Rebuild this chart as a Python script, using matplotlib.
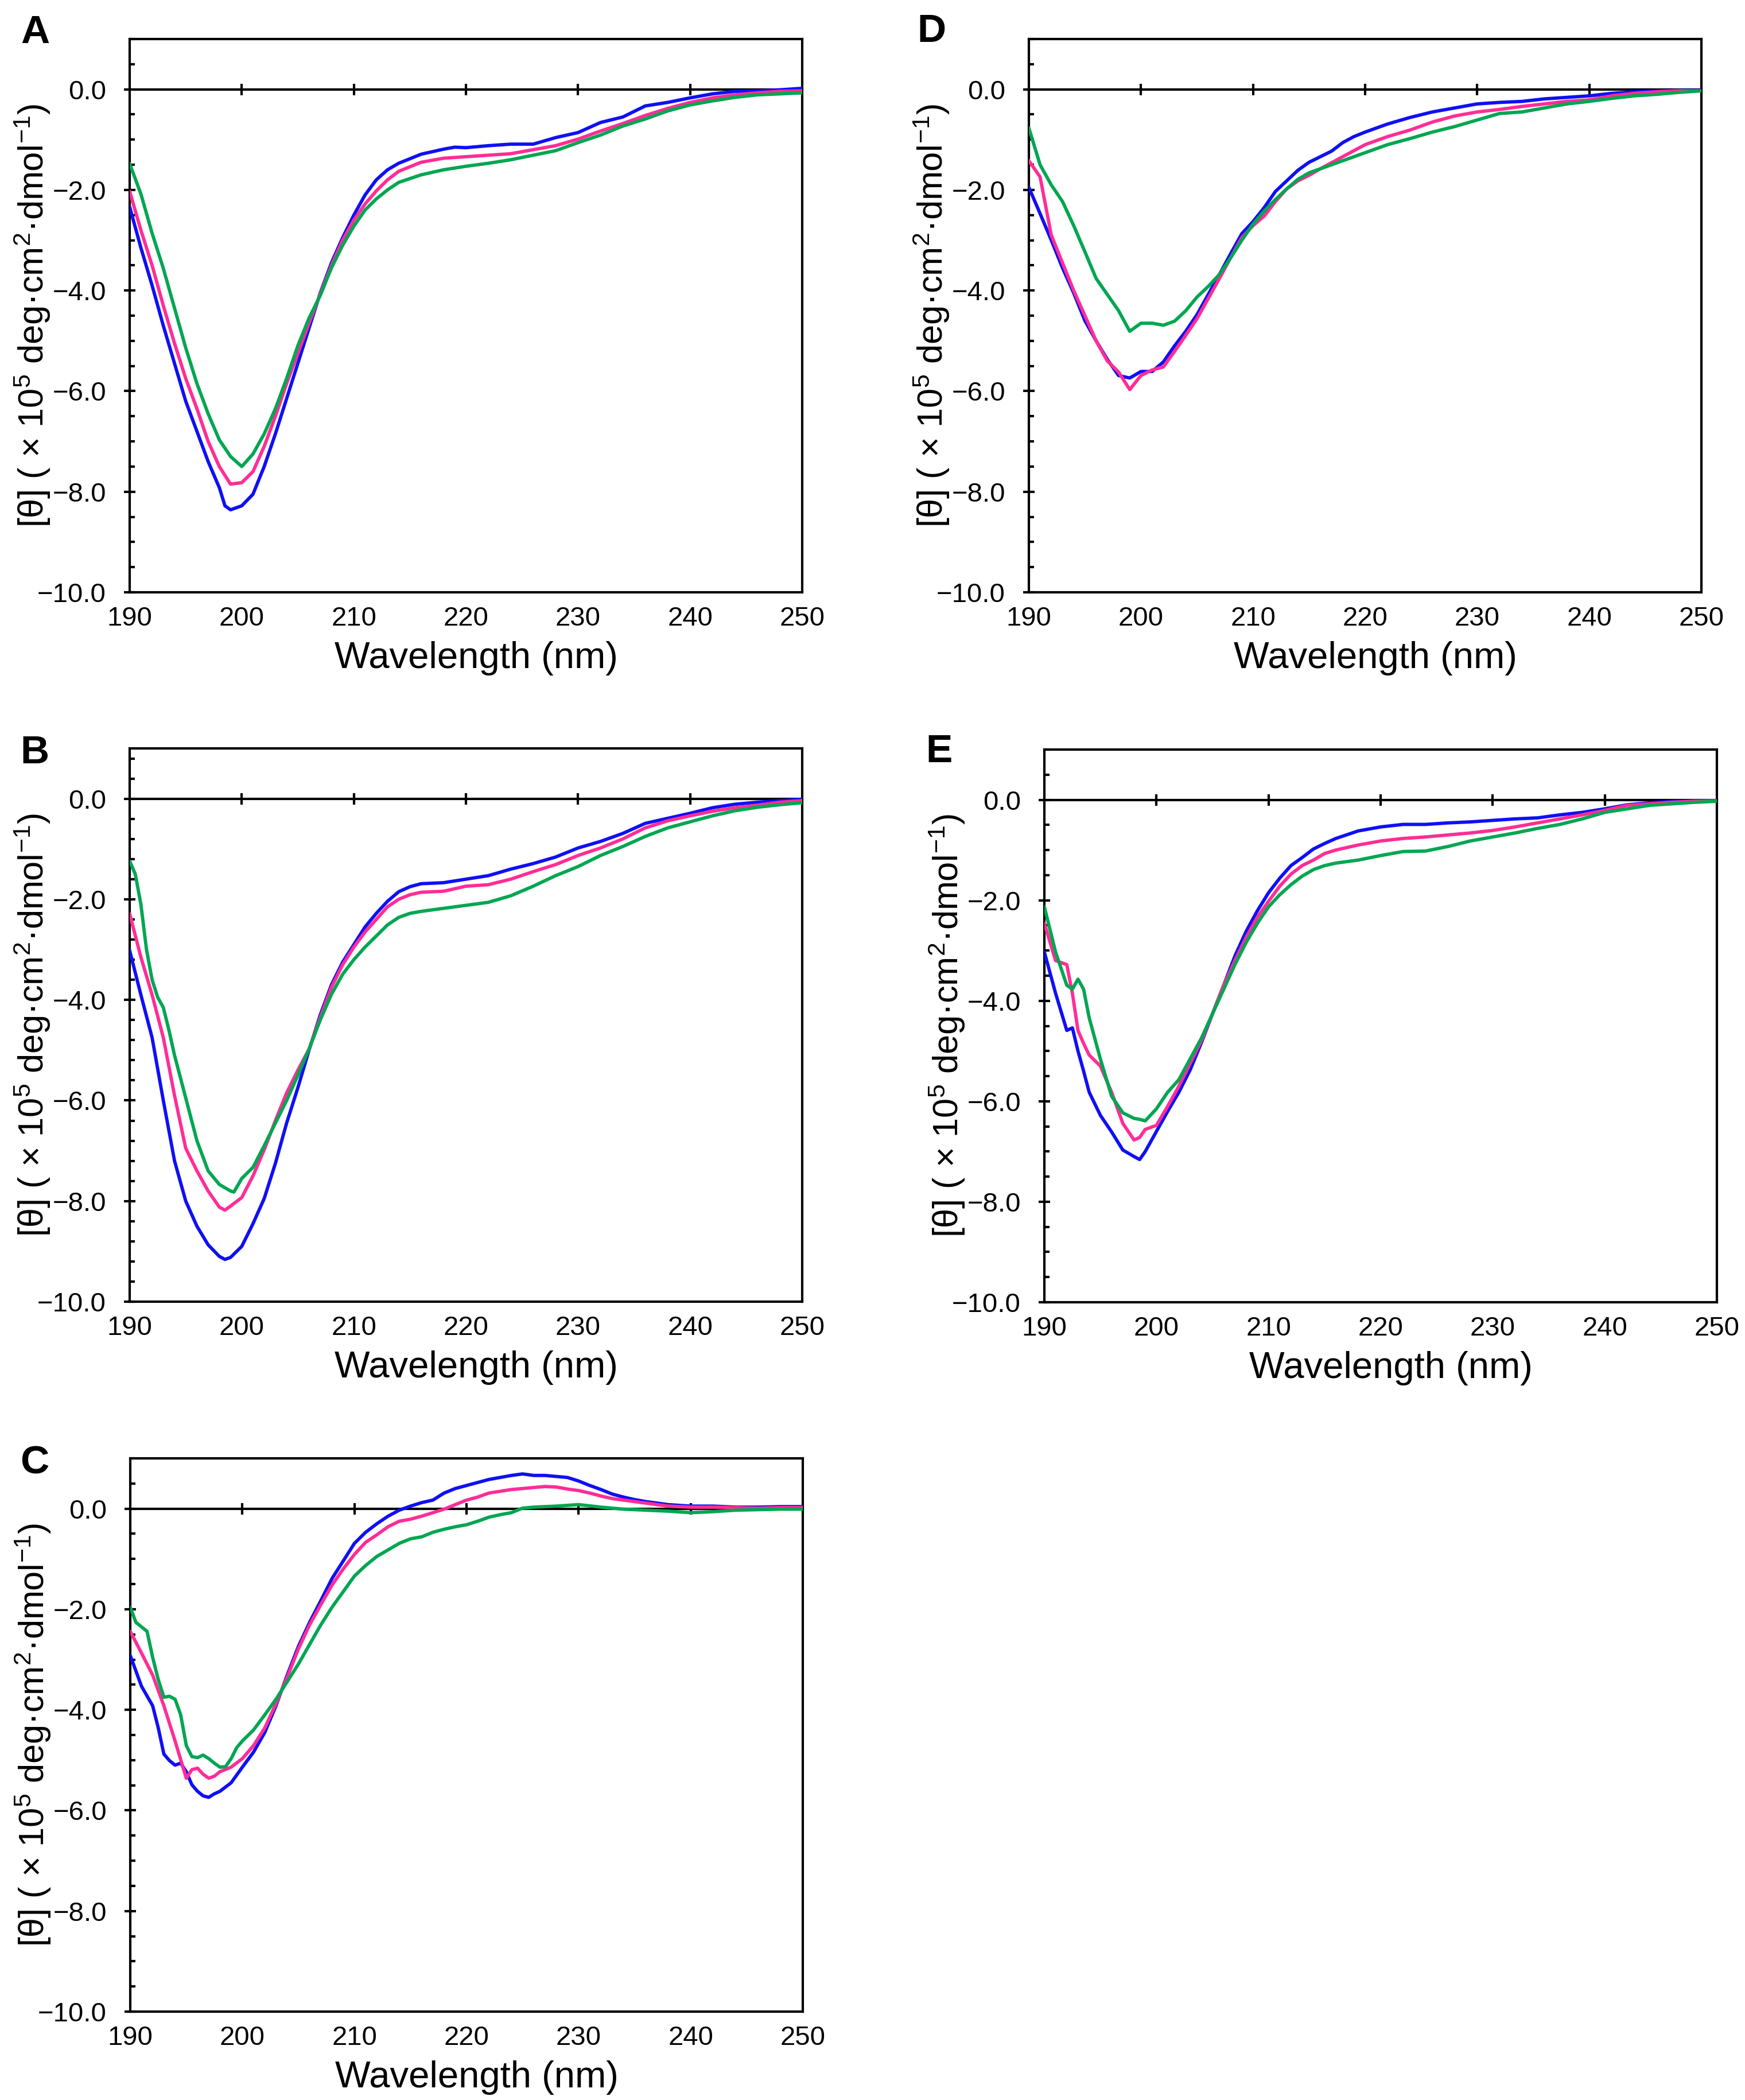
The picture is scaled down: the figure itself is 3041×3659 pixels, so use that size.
import matplotlib
matplotlib.use("Agg")
import matplotlib.pyplot as plt
from matplotlib.ticker import MultipleLocator, FuncFormatter, NullLocator

plt.rcParams['font.family'] = ['Liberation Sans', 'DejaVu Sans']
plt.rcParams['mathtext.fontset'] = 'custom'
plt.rcParams['mathtext.rm'] = 'Liberation Sans'
plt.rcParams['mathtext.it'] = 'Liberation Sans:italic'
plt.rcParams['mathtext.bf'] = 'Liberation Sans:bold'

# ---------------- data ----------------
x_ticks = [190, 200, 210, 220, 230, 240, 250]
y_ticks = [0.0, -2.0, -4.0, -6.0, -8.0, -10.0]
colors = {'blue': '#0F0FF5', 'pink': '#FF2D96', 'green': '#00A651'}

# Panel A
A_blue_wl = [190, 191, 192, 193, 194, 195, 196, 197, 198, 198.5, 199, 200, 201, 202, 203, 204, 205, 206, 207, 208,
             209, 210, 211, 212, 213, 214, 216, 218, 219, 220, 222, 224, 226, 228, 230, 232, 234, 236, 238, 240,
             242, 244, 246, 248, 250]
A_blue = [-2.34, -3.15, -3.9, -4.7, -5.45, -6.2, -6.8, -7.4, -7.92, -8.28, -8.36, -8.28, -8.05, -7.5, -6.85, -6.15,
          -5.45, -4.75, -4.05, -3.45, -2.95, -2.5, -2.1, -1.8, -1.6, -1.47, -1.29, -1.19, -1.15, -1.16, -1.12, -1.09,
          -1.09, -0.96, -0.86, -0.66, -0.55, -0.33, -0.26, -0.17, -0.09, -0.04, -0.03, -0.01, 0.02]
A_wl = [190, 191, 192, 193, 194, 195, 196, 197, 198, 199, 200, 201, 202, 203, 204, 205, 206, 207, 208, 209, 210,
        211, 212, 213, 214, 216, 218, 220, 222, 224, 226, 228, 230, 232, 234, 236, 238, 240, 242, 244, 246, 248, 250]
A_pink = [-2.03, -2.8, -3.5, -4.3, -5.05, -5.75, -6.35, -7.0, -7.5, -7.85, -7.82, -7.6, -7.1, -6.5, -5.85, -5.25,
          -4.65, -4.07, -3.5, -3.0, -2.6, -2.28, -2.02, -1.8, -1.63, -1.45, -1.37, -1.34, -1.31, -1.28, -1.2, -1.12,
          -0.99, -0.83, -0.68, -0.52, -0.38, -0.26, -0.17, -0.11, -0.07, -0.04, -0.03]
A_green = [-1.48, -2.08, -2.86, -3.56, -4.35, -5.14, -5.85, -6.45, -6.97, -7.3, -7.5, -7.25, -6.85, -6.35, -5.75,
           -5.1, -4.55, -4.1, -3.55, -3.1, -2.72, -2.4, -2.18, -2.0, -1.85, -1.7, -1.6, -1.53, -1.47, -1.4, -1.31,
           -1.22, -1.06, -0.91, -0.73, -0.59, -0.43, -0.31, -0.23, -0.16, -0.11, -0.09, -0.07]

# Panel B
B_wl = [190, 191, 192, 193, 194, 195, 196, 197, 198, 198.5, 199, 200, 201, 202, 203, 204, 205, 206, 207, 208, 209,
        210, 211, 212, 213, 214, 215, 216, 218, 220, 222, 224, 226, 228, 230, 232, 234, 236, 238, 240, 242, 244,
        246, 248, 250]
B_blue = [-3.02, -3.9, -4.75, -6.0, -7.2, -8.0, -8.5, -8.87, -9.1, -9.16, -9.12, -8.9, -8.45, -7.95, -7.25, -6.45,
          -5.75, -5.0, -4.3, -3.7, -3.25, -2.9, -2.55, -2.28, -2.04, -1.85, -1.75, -1.69, -1.67, -1.6, -1.53, -1.4,
          -1.29, -1.16, -0.98, -0.85, -0.69, -0.49, -0.39, -0.29, -0.18, -0.11, -0.07, -0.04, -0.01]
B_pink = [-2.29, -3.15, -3.9, -4.75, -5.9, -6.95, -7.4, -7.8, -8.12, -8.18, -8.1, -7.93, -7.5, -6.98, -6.4, -5.85,
          -5.4, -4.98, -4.35, -3.75, -3.3, -2.95, -2.65, -2.4, -2.15, -2.0, -1.91, -1.86, -1.84, -1.74, -1.71, -1.6,
          -1.45, -1.31, -1.13, -0.98, -0.8, -0.58, -0.44, -0.34, -0.25, -0.18, -0.13, -0.07, -0.04]
B_green_wl = [190, 190.5, 191, 191.5, 192, 192.5, 193, 193.5, 194, 195, 196, 197, 198, 199, 199.3, 200, 201, 202,
              203, 204, 205, 206, 207, 208, 209, 210, 211, 212, 213, 214, 215, 216, 218, 220, 222, 224, 226, 228,
              230, 232, 234, 236, 238, 240, 242, 244, 246, 248, 250]
B_green = [-1.24, -1.5, -2.1, -3.0, -3.6, -3.95, -4.15, -4.6, -5.1, -5.95, -6.8, -7.4, -7.67, -7.8, -7.82, -7.55,
           -7.33, -6.9, -6.45, -6.0, -5.5, -4.98, -4.4, -3.89, -3.49, -3.2, -2.95, -2.73, -2.51, -2.36, -2.28, -2.24,
           -2.18, -2.12, -2.06, -1.93, -1.74, -1.53, -1.35, -1.13, -0.95, -0.75, -0.58, -0.46, -0.34, -0.24, -0.17,
           -0.12, -0.08]

# Panel C
C_blue_wl = [190, 191, 192, 192.5, 193, 193.5, 194, 194.5, 195, 195.5, 196, 196.5, 197, 197.5, 198, 199, 200, 201,
             202, 203, 204, 205, 206, 207, 208, 209, 210, 211, 212, 213, 214, 215, 216, 217, 218, 219, 220, 221,
             222, 223, 224, 225, 226, 227, 228, 229, 230, 231, 232, 233, 234, 235, 236, 238, 240, 242, 244, 246,
             248, 250]
C_blue = [-2.92, -3.53, -3.92, -4.36, -4.88, -5.01, -5.1, -5.06, -5.23, -5.49, -5.62, -5.71, -5.74, -5.67, -5.62,
          -5.45, -5.14, -4.84, -4.45, -3.92, -3.31, -2.74, -2.26, -1.83, -1.39, -1.04, -0.69, -0.47, -0.3, -0.15,
          -0.03, 0.05, 0.12, 0.17, 0.31, 0.4, 0.46, 0.52, 0.58, 0.62, 0.66, 0.69, 0.66, 0.66, 0.64, 0.62, 0.55,
          0.46, 0.38, 0.29, 0.23, 0.18, 0.14, 0.08, 0.05, 0.05, 0.03, 0.03, 0.04, 0.04]
C_pink_wl = [190, 191, 192, 193, 194, 195, 195.5, 196, 196.5, 197, 197.5, 198, 199, 200, 201, 202, 203, 204, 205,
             206, 207, 208, 209, 210, 211, 212, 213, 214, 215, 216, 217, 218, 219, 220, 221, 222, 224, 226, 227,
             228, 229, 230, 231, 232, 233, 234, 236, 238, 240, 242, 244, 246, 248, 250]
C_pink = [-2.44, -2.87, -3.31, -3.92, -4.62, -5.36, -5.19, -5.16, -5.28, -5.36, -5.32, -5.23, -5.14, -4.97, -4.71,
          -4.36, -3.88, -3.35, -2.79, -2.31, -1.91, -1.52, -1.2, -0.91, -0.67, -0.52, -0.36, -0.25, -0.21, -0.15,
          -0.08, -0.01, 0.08, 0.17, 0.23, 0.31, 0.38, 0.42, 0.44, 0.43, 0.39, 0.36, 0.31, 0.25, 0.2, 0.17, 0.11,
          0.05, 0.03, 0.03, 0.02, 0.01, 0.02, 0.02]
C_green_wl = [190, 190.5, 191, 191.5, 192, 192.5, 193, 193.5, 194, 194.5, 195, 195.5, 196, 196.5, 197, 197.5, 198,
              198.5, 199, 199.5, 200, 201, 202, 203, 204, 205, 206, 207, 208, 209, 210, 211, 212, 213, 214, 215,
              216, 217, 218, 219, 220, 221, 222, 223, 224, 225, 226, 228, 230, 232, 234, 236, 238, 240, 242, 244,
              246, 248, 250]
C_green = [-1.96, -2.26, -2.35, -2.44, -2.96, -3.4, -3.75, -3.73, -3.79, -4.1, -4.71, -4.93, -4.95, -4.9, -4.97,
           -5.06, -5.14, -5.13, -4.97, -4.75, -4.62, -4.4, -4.1, -3.79, -3.44, -3.09, -2.7, -2.31, -1.96, -1.65,
           -1.34, -1.13, -0.95, -0.82, -0.69, -0.6, -0.56, -0.47, -0.41, -0.36, -0.32, -0.25, -0.17, -0.12, -0.08,
           0.01, 0.03, 0.05, 0.08, 0.03, -0.01, -0.03, -0.05, -0.08, -0.06, -0.03, -0.02, -0.01, -0.01]

# Panel D
D_wl = [190, 191, 192, 193, 194, 195, 196, 197, 198, 199, 200, 201, 202, 203, 204, 205, 206, 207, 208, 209, 210,
        211, 212, 213, 214, 215, 216, 217, 218, 219, 220, 222, 224, 226, 228, 230, 232, 234, 236, 238, 240, 242,
        244, 246, 248, 250]
D_blue = [-1.95, -2.47, -3.0, -3.55, -4.05, -4.6, -5.0, -5.37, -5.69, -5.74, -5.61, -5.61, -5.42, -5.1, -4.81,
          -4.48, -4.08, -3.68, -3.27, -2.87, -2.63, -2.35, -2.03, -1.82, -1.61, -1.45, -1.34, -1.23, -1.06, -0.94,
          -0.85, -0.69, -0.56, -0.45, -0.37, -0.29, -0.26, -0.24, -0.19, -0.16, -0.13, -0.08, -0.05, -0.03, -0.02,
          -0.02]
D_pink = [-1.42, -1.74, -2.9, -3.45, -4.0, -4.5, -5.0, -5.4, -5.62, -5.97, -5.69, -5.58, -5.52, -5.21, -4.89,
          -4.56, -4.16, -3.76, -3.35, -2.95, -2.71, -2.52, -2.23, -1.98, -1.82, -1.71, -1.58, -1.46, -1.34, -1.22,
          -1.1, -0.94, -0.81, -0.65, -0.53, -0.45, -0.4, -0.34, -0.29, -0.24, -0.21, -0.13, -0.08, -0.05, -0.03,
          -0.03]
D_green = [-0.77, -1.5, -1.9, -2.23, -2.71, -3.23, -3.76, -4.08, -4.4, -4.81, -4.65, -4.65, -4.69, -4.61, -4.4,
           -4.13, -3.92, -3.68, -3.35, -3.0, -2.68, -2.42, -2.19, -1.98, -1.79, -1.66, -1.58, -1.5, -1.42, -1.34,
           -1.26, -1.1, -0.98, -0.85, -0.74, -0.61, -0.48, -0.45, -0.37, -0.29, -0.24, -0.18, -0.13, -0.1, -0.06,
           -0.03]

# Panel E
E_wl = [190, 191, 192, 192.5, 193, 193.5, 194, 195, 196, 197, 198, 198.5, 199, 200, 201, 202, 203, 204, 205, 206,
        207, 208, 209, 210, 211, 212, 213, 214, 215, 216, 218, 220, 222, 224, 226, 228, 230, 232, 234, 236, 238,
        240, 242, 244, 246, 248, 250]
E_blue = [-3.03, -3.85, -4.59, -4.54, -5.0, -5.4, -5.82, -6.28, -6.61, -6.97, -7.1, -7.16, -7.0, -6.6, -6.2, -5.82,
          -5.38, -4.84, -4.26, -3.69, -3.11, -2.62, -2.21, -1.85, -1.56, -1.31, -1.15, -0.98, -0.87, -0.77, -0.62,
          -0.54, -0.49, -0.49, -0.46, -0.44, -0.41, -0.38, -0.36, -0.3, -0.25, -0.18, -0.1, -0.06, -0.03, -0.02,
          -0.02]
E_pink = [-2.46, -3.2, -3.28, -3.85, -4.59, -4.85, -5.08, -5.3, -5.82, -6.44, -6.77, -6.72, -6.56, -6.48, -6.1,
          -5.7, -5.25, -4.8, -4.26, -3.69, -3.2, -2.74, -2.34, -2.02, -1.72, -1.48, -1.31, -1.2, -1.07, -1.0, -0.9,
          -0.82, -0.77, -0.74, -0.7, -0.66, -0.61, -0.54, -0.46, -0.38, -0.3, -0.21, -0.11, -0.08, -0.05, -0.03,
          -0.02]
E_green = [-2.13, -3.03, -3.69, -3.77, -3.57, -3.77, -4.34, -5.16, -5.9, -6.23, -6.34, -6.36, -6.39, -6.15, -5.82,
           -5.57, -5.16, -4.75, -4.26, -3.77, -3.28, -2.84, -2.46, -2.13, -1.89, -1.69, -1.52, -1.39, -1.31, -1.26,
           -1.2, -1.11, -1.03, -1.02, -0.93, -0.82, -0.74, -0.66, -0.57, -0.49, -0.38, -0.25, -0.18, -0.11, -0.08,
           -0.05, -0.03]

panels = [
    ('A', [(A_blue_wl, A_blue, 'blue'), (A_wl, A_pink, 'pink'), (A_wl, A_green, 'green')]),
    ('B', [(B_wl, B_blue, 'blue'), (B_wl, B_pink, 'pink'), (B_green_wl, B_green, 'green')]),
    ('C', [(C_blue_wl, C_blue, 'blue'), (C_pink_wl, C_pink, 'pink'), (C_green_wl, C_green, 'green')]),
    ('D', [(D_wl, D_blue, 'blue'), (D_wl, D_pink, 'pink'), (D_wl, D_green, 'green')]),
    ('E', [(E_wl, E_blue, 'blue'), (E_wl, E_pink, 'pink'), (E_wl, E_green, 'green')]),
]

# ---------------- layout (pixels: left, top, right, bottom) ----------------
W, H = 3041, 3659
boxes = {
    'A': (226, 68, 1398, 1032),
    'B': (226, 1304, 1398, 2268),
    'C': (227, 2541, 1399, 3505),
    'D': (1793, 68, 2965, 1032),
    'E': (1820, 1306, 2992, 2269),
}
letter_pos = {'A': (36, 75), 'B': (35, 1330), 'C': (35, 2568), 'D': (1598, 73), 'E': (1613, 1328)}
minor_step = {'A': 0.5, 'B': 0.4, 'C': 0.5, 'D': 0.5, 'E': 0.5}

fig = plt.figure(figsize=(W / 100, H / 100), dpi=100)

LW_AX = 3.0
LW_DATA = 4.2
TICK_FS = 34
LABEL_FS = 47
YLABEL_FS = 44

def fmt(v, pos):
    return f"{v:.1f}".replace('-', '\u2212')

for key, series in panels:
    l, t, r, b = boxes[key]
    ax = fig.add_axes([l / W, 1 - b / H, (r - l) / W, (b - t) / H])
    for wl, vals, c in series:
        ax.plot(wl, vals, color=colors[c], lw=LW_DATA, solid_joinstyle='round', solid_capstyle='round', zorder=3)
    ax.set_xlim(190, 250)
    ax.set_ylim(-10, 1)
    for s in ax.spines.values():
        s.set_linewidth(LW_AX)
    ax.set_xticks(x_ticks)
    ax.set_xticklabels([str(v) for v in x_ticks])
    ax.tick_params(axis='x', which='both', bottom=True, top=False, length=0, pad=17, labelsize=TICK_FS)
    ax.set_yticks(y_ticks)
    ax.yaxis.set_major_formatter(FuncFormatter(fmt))
    ax.yaxis.set_minor_locator(MultipleLocator(minor_step[key]))
    ax.tick_params(axis='y', which='major', direction='inout', length=15, width=LW_AX, pad=22,
                   labelsize=TICK_FS, left=True, right=False)
    ax.tick_params(axis='y', which='minor', direction='in', length=6.5, width=LW_AX, left=True, right=False)

    # zero line with tick marks
    sec = ax.secondary_xaxis(10 / 11)
    sec.set_xticks([200, 210, 220, 230, 240])
    sec.xaxis.set_minor_locator(NullLocator())
    sec.tick_params(axis='x', which='major', direction='inout', length=15, width=LW_AX,
                    labeltop=False, labelbottom=False)
    for s in sec.spines.values():
        s.set_linewidth(LW_AX)

    ax.set_xlabel('Wavelength (nm)', fontsize=LABEL_FS)
    ax.xaxis.set_label_coords(0.515, -0.088)
    ax.set_ylabel('[θ] ( × 10$^{5}$ deg·cm$^{2}$·dmol$^{-1}$)', fontsize=YLABEL_FS)
    ax.yaxis.set_label_coords(-0.115, 0.5)

    lx, ly = letter_pos[key]
    fig.text(lx / W, 1 - ly / H, key, fontsize=50, fontweight='bold', ha='left', va='baseline')

fig.savefig('out.png', dpi=100)
